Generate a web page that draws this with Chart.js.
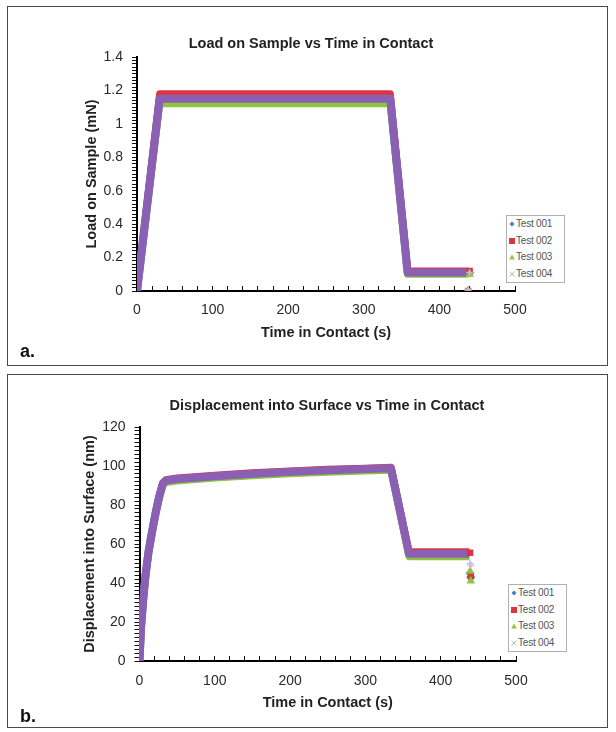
<!DOCTYPE html>
<html>
<head>
<meta charset="utf-8">
<script src="https://cdn.jsdelivr.net/npm/chart.js@4.4.1/dist/chart.umd.min.js"></script>
<style>
  html, body { margin: 0; padding: 0; background: #fff; }
  body { width: 616px; height: 732px; position: relative; overflow: hidden; font-family: 'Liberation Sans', Arial, sans-serif; }
  .panel { position: absolute; left: 7px; width: 599px; border: 1.5px solid #4a4a4a; }
  canvas { position: absolute; left: 8px; }
  .ttl { position: absolute; font-weight: bold; font-size: 14.5px; color: #222; white-space: nowrap; transform: translate(-50%, -50%); }
  .tag { position: absolute; left: 20px; font-weight: bold; font-size: 18px; color: #111; transform: translateY(-50%); }
  .lg { position: absolute; width: 57px; border: 1px solid #b0b0b0; background: #fff; font-size: 10px; color: #555; }
  .lg div { height: 16.5px; line-height: 16.5px; padding-left: 2px; white-space: nowrap; letter-spacing: -0.2px; }
  .lg svg { vertical-align: middle; margin-right: 1px; }
</style>
</head>
<body>
<div class="panel" style="top:6px;height:358px"></div>
<div class="panel" style="top:374px;height:352px"></div>

<canvas id="loadChart" width="600" height="356" style="top:8px"></canvas>
<canvas id="dispChart" width="600" height="350" style="top:376px"></canvas>

<div class="ttl" style="left:311px;top:43px">Load on Sample vs Time in Contact</div>
<div class="ttl" style="left:327px;top:405px">Displacement into Surface vs Time in Contact</div>
<div class="tag" style="top:351px">a.</div>
<div class="tag" style="top:716px">b.</div>

<div class="lg" id="legendA" style="left:506px;top:215px"></div>
<div class="lg" id="legendB" style="left:508px;top:584px"></div>

<script>
// ---- data ----
const seriesNames = ['Test 001', 'Test 002', 'Test 003', 'Test 004'];

// load on sample (mN) vs time in contact (s)
const loadTime    = [0, 30, 335, 358, 438];
const loadTest001 = [0, 1.15, 1.15, 0.11, 0.11];
const loadTest002 = [0, 1.18, 1.18, 0.12, 0.12];
const loadTest003 = [0, 1.12, 1.12, 0.10, 0.10];
const loadTest004 = [0, 1.15, 1.15, 0.11, 0.11];
// last unloading points, shown as markers only
const loadEndTime = [440, 438];
const loadEnd001  = [0.11, 0];
const loadEnd002  = [0.12, 0];
const loadEnd003  = [0.10, 0];
const loadEnd004  = [0.11, 0.01];

// displacement into surface (nm) vs time in contact (s)
const dispTime    = [0, 2, 5, 8, 12, 17, 22, 26, 31, 35, 50, 100, 150, 200, 250, 300, 334, 358, 438];
const dispTest001 = [0, 17, 32, 44, 56, 67, 77, 84, 90.8, 92.3, 93, 94.5, 95.7, 96.7, 97.5, 98.1, 98.5, 54.5, 54.5];
const dispTest002 = [0, 17, 32, 44, 56, 67, 77, 84, 91.5, 93, 93.8, 95.3, 96.5, 97.5, 98.3, 98.9, 99.3, 56, 56];
const dispTest003 = [0, 16, 31, 43, 55, 66, 76, 83, 90, 91.5, 92.3, 93.8, 95, 96, 96.8, 97.4, 97.8, 53.5, 53.5];
const dispTest004 = [0, 17, 32, 44, 56, 67, 77, 84, 91, 92.5, 93.3, 94.8, 96, 97, 97.8, 98.4, 98.8, 55, 55];
const dispEndTime = [439, 440];
const dispEnd001  = [45, 43];
const dispEnd002  = [55.5, 43.5];
const dispEnd003  = [46, 41];
const dispEnd004  = [50, 49];

// axis ticks
const timeTickLabels = [0, 100, 200, 300, 400, 500];
const loadTickLabels = [0, 0.2, 0.4, 0.6, 0.8, 1, 1.2, 1.4];
const dispTickLabels = [0, 20, 40, 60, 80, 100, 120];

// ---- styling ----
const colors = ['#3f7fc8', '#dc3440', '#8cc540', '#8b5fb3'];
const markers = ['rectRot', 'rect', 'triangle', 'cross'];
const markerColors = ['#3f7fc8', '#dc3440', '#8cc540', '#c9b8dc'];
const lineWidths = [8, 7, 7, 8];
const drawOrder = [3, 2, 1, 0]; // Test 004 on top, like the Excel plot

Chart.defaults.font.family = "'Liberation Sans', Arial, sans-serif";
Chart.defaults.color = '#222';

const toPoints = (xs, ys) => xs.map((x, i) => ({ x: x, y: ys[i] }));

function buildDatasets(time, lines, endTime, ends) {
  const sets = lines.map((ys, i) => ({
    label: seriesNames[i],
    data: toPoints(time, ys),
    borderColor: colors[i],
    borderWidth: lineWidths[i],
    borderJoinStyle: 'round',
    pointRadius: 0,
    showLine: true,
    order: drawOrder[i]
  }));
  ends.forEach((ys, i) => sets.push({
    label: seriesNames[i] + ' end',
    data: toPoints(endTime, ys),
    showLine: false,
    pointStyle: markers[i],
    pointRadius: 3.5,
    pointBackgroundColor: markerColors[i],
    pointBorderColor: markerColors[i],
    pointBorderWidth: 1.5,
    order: -1 + drawOrder[i] / 10
  }));
  return sets;
}

// Excel-like axis: minor ticks everywhere, labels only on the major values
function axis(title, min, max, step, labels, fitSize, horizontal, pad) {
  return {
    type: 'linear',
    min: min, max: max,
    ticks: {
      stepSize: step,
      autoSkip: false,
      maxRotation: 0,
      padding: pad,
      font: { size: 14 },
      color: '#2a2a2a',
      callback: v => labels.some(l => Math.abs(l - v) < 1e-9) ? String(v) : ''
    },
    // x ticks point up into the plot, y ticks point out
    grid: { drawOnChartArea: false, drawTicks: true, tickLength: horizontal ? -5 : 5, color: '#111', lineWidth: 1 },
    border: { display: true, color: '#000', width: 2 },
    title: { display: true, text: title, font: { size: 14.5, weight: 'bold' }, color: '#222' },
    afterFit: s => { if (horizontal) s.height = fitSize; else s.width = fitSize; }
  };
}

function makeChart(id, datasets, yAxis, xAxis, padding) {
  return new Chart(document.getElementById(id), {
    type: 'scatter',
    data: { datasets: datasets },
    options: {
      responsive: false,
      animation: false,
      layout: { padding: padding },
      plugins: { legend: { display: false }, tooltip: { enabled: false }, title: { display: false } },
      scales: { x: xAxis, y: yAxis }
    }
  });
}

makeChart('loadChart',
  buildDatasets(loadTime, [loadTest001, loadTest002, loadTest003, loadTest004],
                loadEndTime, [loadEnd001, loadEnd002, loadEnd003, loadEnd004]),
  axis('Load on Sample (mN)', 0, 1.4, 0.02, loadTickLabels, 57.7, false, 9),
  axis('Time in Contact (s)', 0, 500, 20, timeTickLabels, 55, true, 16),
  { top: 49, right: 93, bottom: 18, left: 71.3 });

makeChart('dispChart',
  buildDatasets(dispTime, [dispTest001, dispTest002, dispTest003, dispTest004],
                dispEndTime, [dispEnd001, dispEnd002, dispEnd003, dispEnd004]),
  axis('Displacement into Surface (nm)', 0, 120, 2, dispTickLabels, 62.2, false, 9),
  axis('Time in Contact (s)', 0, 500, 20, timeTickLabels, 55, true, 17),
  { top: 51, right: 92, bottom: 10, left: 69.3 });

// small legend boxes, Excel style
const markerSvg = [
  '<svg width="6" height="6"><path d="M3 0.5L5.5 3L3 5.5L0.5 3Z" fill="#3f7fc8"/></svg>',
  '<svg width="6" height="6"><rect x="0" y="0" width="6" height="6" fill="#dc3440"/></svg>',
  '<svg width="6" height="6"><path d="M3 0.5L5.8 5.5H0.2Z" fill="#8cc540"/></svg>',
  '<svg width="6" height="6"><path d="M0.5 0.5L5.5 5.5M5.5 0.5L0.5 5.5" stroke="#b9b9c9" stroke-width="1"/></svg>'
];
['legendA', 'legendB'].forEach(id => {
  document.getElementById(id).innerHTML =
    seriesNames.map((n, i) => '<div>' + markerSvg[i] + n + '</div>').join('');
});
</script>
</body>
</html>
